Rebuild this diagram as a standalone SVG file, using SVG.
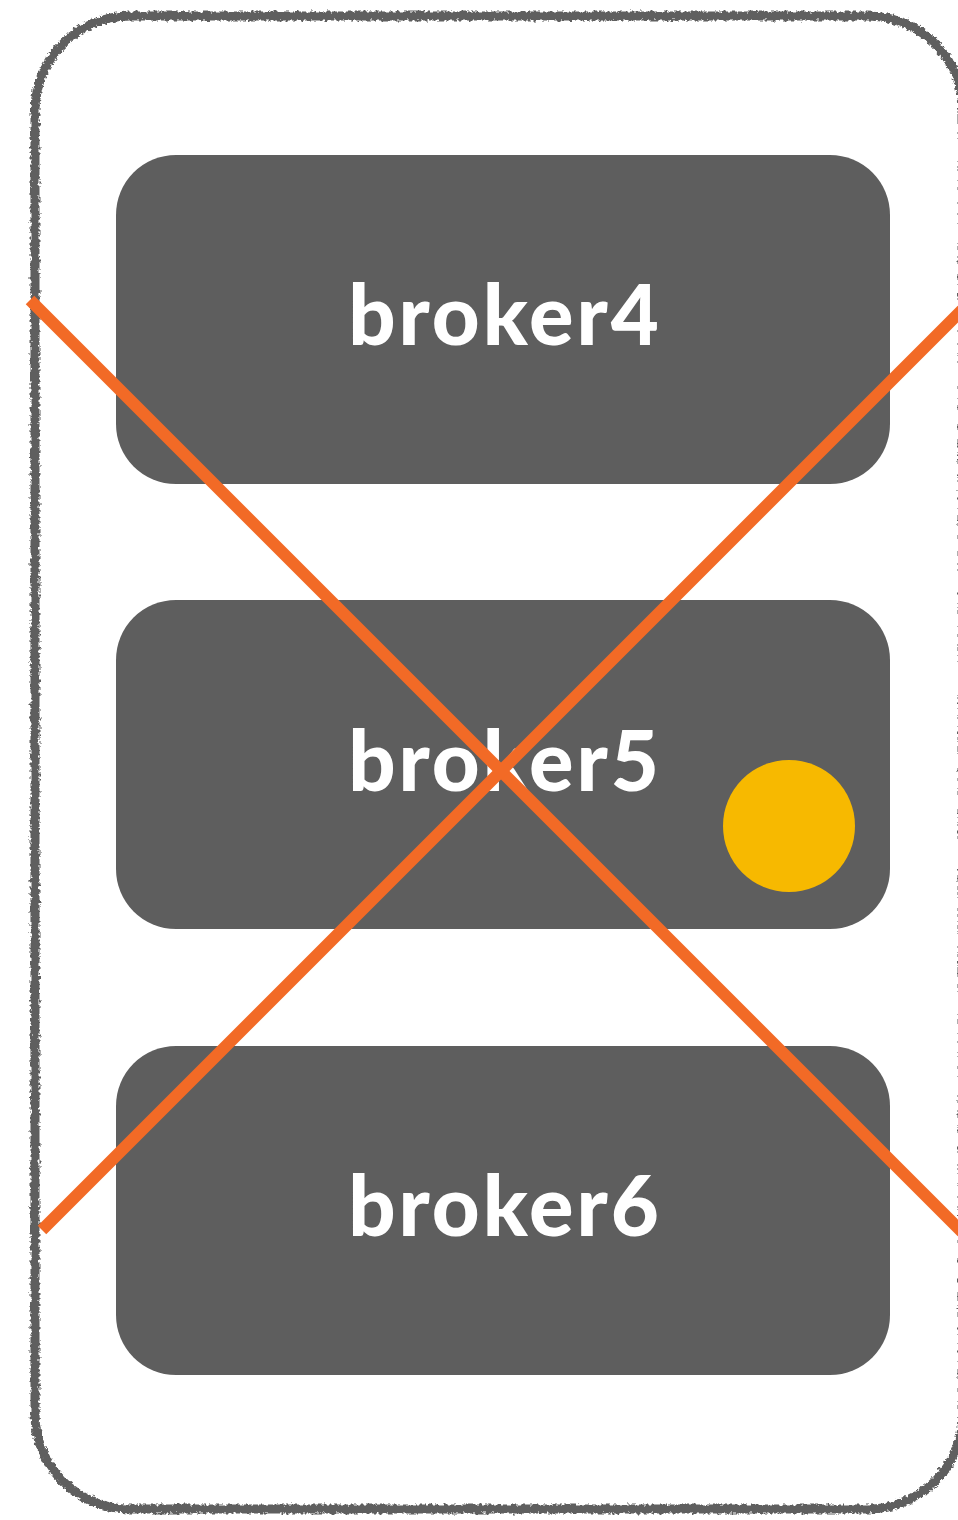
<svg xmlns="http://www.w3.org/2000/svg" width="958" height="1520" viewBox="0 0 958 1520">
<defs>
<filter id="rough" x="-5%" y="-5%" width="110%" height="110%">
<feTurbulence type="fractalNoise" baseFrequency="0.3" numOctaves="3" seed="3" result="n"/>
<feDisplacementMap in="SourceGraphic" in2="n" scale="6" xChannelSelector="R" yChannelSelector="G"/>
</filter>
<style>
.box{fill:#5e5e5e}
.lbl{fill:#ffffff;font-family:Lato,"Open Sans",sans-serif;font-weight:900;font-size:83px;letter-spacing:3px;text-anchor:middle}
.cross{stroke:#f26a26;stroke-width:12;stroke-linecap:butt;fill:none}
</style>
</defs>
<g id="cluster">
<rect x="35" y="16" width="928" height="1493" rx="95" fill="none" stroke="#5e5e5e" stroke-width="9" filter="url(#rough)"/>
</g>
<g id="broker4">
<rect class="box" x="116" y="155" width="774" height="329" rx="60"/>
<text class="lbl" x="505" y="345">broker4</text>
</g>
<g id="broker5">
<rect class="box" x="116" y="600" width="774" height="329" rx="60"/>
<text class="lbl" x="505" y="791">broker5</text>
<circle cx="789" cy="826" r="66" fill="#f7b900"/>
</g>
<g id="broker6">
<rect class="box" x="116" y="1046" width="774" height="329" rx="60"/>
<text class="lbl" x="505" y="1236">broker6</text>
</g>
<g id="connectors">
<line class="cross" x1="30" y1="300" x2="962" y2="1232"/>
<line class="cross" x1="42" y1="1230" x2="962" y2="310"/>
</g>
</svg>
